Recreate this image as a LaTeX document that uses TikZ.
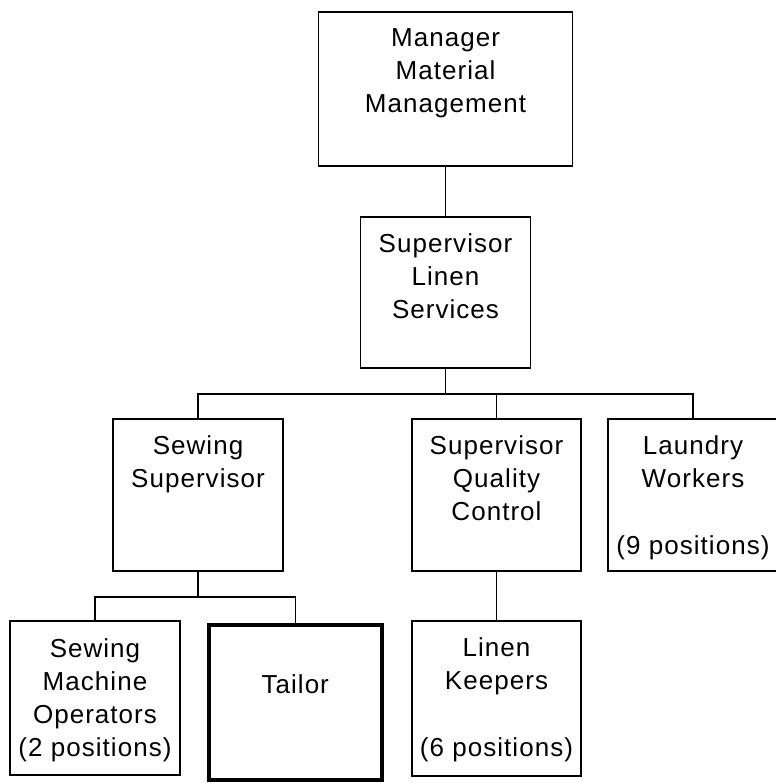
\documentclass[tikz,border=0pt]{standalone}
\usepackage{fontspec}
\setmainfont{Liberation Sans}[LetterSpace=4]
\begin{document}
\begin{tikzpicture}[x=1pt,y=-1pt,
  box/.style={draw, rectangle, line width=1.4pt, inner sep=0pt},
  tailorbox/.style={draw, rectangle, line width=4pt, inner sep=0pt},
  txt/.style={align=center, inner sep=0pt, anchor=base, font=\fontsize{26}{33}\selectfont},
  conn/.style={line width=1.4pt}]
\useasboundingbox (0,0) rectangle (775,783);
% boxes
\node[box, minimum width=254, minimum height=154] (mgr) at (445.5,89) {};
\node[box, minimum width=170, minimum height=151] (sls) at (445.5,292.5) {};
\node[box, minimum width=170, minimum height=152] (ss) at (198,495) {};
\node[box, minimum width=169, minimum height=152] (sqc) at (496.5,495) {};
\node[box, minimum width=170, minimum height=152] (lw) at (693,495) {};
\node[box, minimum width=170, minimum height=154] (smo) at (95,698) {};
\node[tailorbox, minimum width=173.5, minimum height=155] (tailor) at (295.25,702) {};
\node[box, minimum width=169, minimum height=155] (lk) at (496.5,698.5) {};
% texts (anchored at the baseline of the last line)
\node[txt] (mgrt) at (445.5,113) {Manager\\Material\\Management};
\node[txt] (slst) at (445.5,318) {Supervisor\\Linen\\Services};
\node[txt] (sst) at (198,487) {Sewing\\Supervisor};
\node[txt] (sqct) at (496.5,520) {Supervisor\\Quality\\Control};
\node[txt] (lwt) at (693,554) {Laundry\\Workers\\[34pt](9 positions)};
\node[txt] (smot) at (95,756) {Sewing\\Machine\\Operators\\(2 positions)};
\node[txt] (tailort) at (295.25,693) {Tailor};
\node[txt] (lkt) at (496.5,756) {Linen\\Keepers\\[34pt](6 positions)};
% connectors
\coordinate (bus) at (445.5,394);
\coordinate (sub) at (198,597);
\draw[conn] (mgr.south) -- (sls.north);
\draw[conn] (sls.south) -- (bus);
\draw[conn] (ss.north) |- (bus) -| (lw.north);
\draw[conn] (sqc.north |- bus) -- (sqc.north);
\draw[conn] (sqc.south) -- (lk.north);
\draw[conn] (ss.south) -- (sub);
\draw[conn] (smo.north) |- (sub) -| (tailor.north);
\end{tikzpicture}
\end{document}
